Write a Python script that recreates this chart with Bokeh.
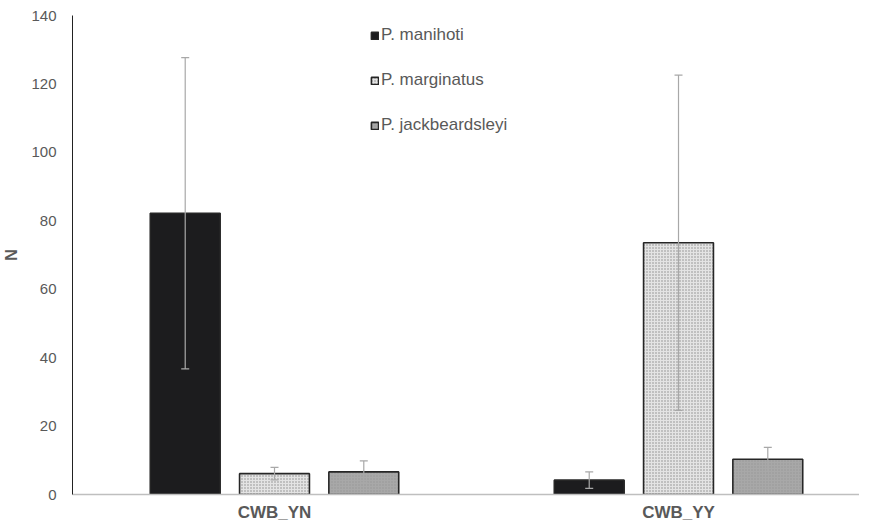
from bokeh.plotting import figure
from bokeh.models import ColumnDataSource, Whisker, TeeHead, FixedTicker, Legend, LegendItem, Range1d
from bokeh.embed import file_html
from bokeh.resources import INLINE

categories = ["CWB_YN", "CWB_YY"]
species = ["P. manihoti", "P. marginatus", "P. jackbeardsleyi"]
means = {
    "P. manihoti": [82.2, 4.2],
    "P. marginatus": [6.1, 73.6],
    "P. jackbeardsleyi": [6.6, 10.3],
}
errs = {
    "P. manihoti": [45.5, 2.4],
    "P. marginatus": [1.8, 49.0],
    "P. jackbeardsleyi": [3.2, 3.5],
}
fills = ["#1c1c1e", "#e4e4e4", "#a8a8a8"]
hatches = [" ", ".", "."]
hatch_colors = ["#1c1c1e", "#8a8a8a", "#959595"]
offsets = [-0.221, 0.0, 0.221]

p = figure(width=859, height=524, output_backend="svg", toolbar_location=None,
           x_range=Range1d(0, 1.948), y_range=Range1d(0, 140),
           min_border_left=68, min_border_right=0, min_border_top=15, min_border_bottom=30)
p.outline_line_color = None
p.xgrid.visible = False
p.ygrid.visible = False

items = []
for i, sp in enumerate(species):
    xs = [k + 0.5 + offsets[i] for k in range(len(categories))]
    m = means[sp]
    e = errs[sp]
    src = ColumnDataSource(dict(x=xs, top=m,
                                lower=[a - b for a, b in zip(m, e)],
                                upper=[a + b for a, b in zip(m, e)]))
    r = p.vbar(x="x", top="top", bottom=0, width=0.173, source=src,
               fill_color=fills[i], line_color="#262626", line_width=1.6,
               hatch_pattern=hatches[i], hatch_color=hatch_colors[i], hatch_scale=3,
               hatch_weight=1)
    items.append(LegendItem(label=sp, renderers=[r]))
    w = Whisker(base="x", lower="lower", upper="upper", source=src, level="overlay",
                line_color="#a8a8a8", line_width=1.2,
                upper_head=TeeHead(size=8, line_color="#a8a8a8", line_width=1.2),
                lower_head=TeeHead(size=8, line_color="#a8a8a8", line_width=1.2))
    p.add_layout(w)

legend = Legend(items=items, location=(298, 359), padding=0, margin=0,
                label_height=20, spacing=25, glyph_width=9, glyph_height=9,
                label_standoff=2, border_line_color=None, background_fill_alpha=0,
                label_text_font="Liberation Sans", label_text_font_size="17px",
                label_text_color="#595959")
p.add_layout(legend, "center")

p.xaxis.ticker = FixedTicker(ticks=[0.5, 1.5])
p.xaxis.major_label_overrides = {0.5: categories[0], 1.5: categories[1]}
p.xaxis.axis_line_color = "#bfbfbf"
p.xaxis.axis_line_width = 1.5
p.xaxis.major_tick_line_color = None
p.xaxis.minor_tick_line_color = None
p.xaxis.major_label_standoff = 2
p.xaxis.major_label_text_font = "Liberation Sans"
p.xaxis.major_label_text_font_size = "17px"
p.xaxis.major_label_text_font_style = "bold"
p.xaxis.major_label_text_color = "#595959"

p.yaxis.ticker = FixedTicker(ticks=[0, 20, 40, 60, 80, 100, 120, 140])
p.yaxis.axis_line_color = "#222222"
p.yaxis.major_tick_line_color = None
p.yaxis.minor_tick_line_color = None
p.yaxis.major_label_standoff = 10
p.yaxis.major_label_text_font = "Liberation Sans"
p.yaxis.major_label_text_font_size = "15px"
p.yaxis.major_label_text_color = "#595959"
p.yaxis.axis_label = "N"
p.yaxis.axis_label_standoff = 8
p.yaxis.axis_label_text_font = "Liberation Sans"
p.yaxis.axis_label_text_font_size = "16px"
p.yaxis.axis_label_text_font_style = "bold"
p.yaxis.axis_label_text_color = "#595959"

open("out.html", "w").write(file_html(p, INLINE))
